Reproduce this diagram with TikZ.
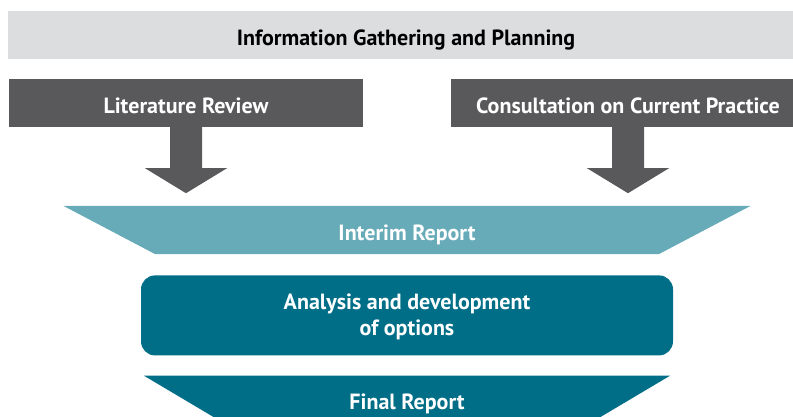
\documentclass[tikz,border=0pt]{standalone}
\usepackage{fontspec}
\setmainfont{PT Sans}
\usepackage{xcolor}
\usetikzlibrary{positioning,calc,backgrounds}

\definecolor{bargrey}{HTML}{DCDDDF}
\definecolor{boxgrey}{HTML}{59595B}
\definecolor{lightteal}{HTML}{67ABB8}
\definecolor{darkteal}{HTML}{006E87}

\begin{document}
\begin{tikzpicture}[
  x=1pt, y=-1pt,
  boxtext/.style={font=\fontsize{22}{26}\selectfont\bfseries, align=center,
    inner sep=0pt, text height=20pt, text depth=0pt},
  header/.style={boxtext, rectangle, fill=bargrey, text=black,
    minimum width=796pt, minimum height=48pt},
  source/.style={boxtext, rectangle, fill=boxgrey, text=white,
    minimum width=354pt, minimum height=48pt},
  report/.style={boxtext, rectangle, text=white, minimum height=48pt},
  stage/.style={boxtext, rectangle, rounded corners=14pt, fill=darkteal,
    text=white, minimum width=532pt, minimum height=80pt,
    text height=45pt, text depth=5pt},
]
  \clip (0,0) rectangle (793,416);

  \node[header] (info) at (406,35) {Information Gathering and Planning};
  \node[source] (lit) at (186,103) {Literature Review};
  \node[source] (cons) at (628,103) {Consultation on Current Practice};
  \node[report, minimum width=503pt] (interim) at (407,230) {Interim Report};
  \node[stage, below=21pt of interim] (analysis) {Analysis and development\\of options};
  \node[report, minimum width=363pt, below=20pt of analysis] (final) {Final Report};

  % funnel bands behind the report labels
  \begin{scope}[on background layer]
    \fill[lightteal] (interim.south west) -- (interim.south east)
      -- ($(interim.north east)+(92,0)$) -- ($(interim.north west)+(-92,0)$) -- cycle;
    \fill[darkteal] (final.south west) -- (final.south east)
      -- ($(final.north east)+(81.5,0)$) -- ($(final.north west)+(-81.5,0)$) -- cycle;
  \end{scope}

  % block arrows under the two sources
  \foreach \n in {lit,cons}
    \fill[boxgrey] ($(\n.south)+(-16,0)$) -- ++(0,41) -- ++(-25,0)
      -- ($(\n.south)+(0,66)$) -- ++(41,-25) -- ++(-25,0) -- ++(0,-41) -- cycle;
\end{tikzpicture}
\end{document}
